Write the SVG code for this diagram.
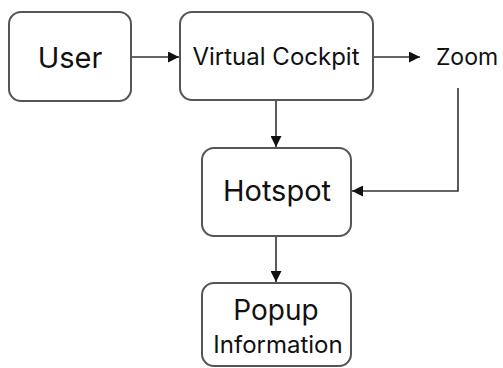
<svg xmlns="http://www.w3.org/2000/svg" width="503" height="368" viewBox="0 0 503 368">
<defs>
<style>
.box{fill:#fff;stroke:#555;stroke-width:2}
.t{font-family:Inter,"Liberation Sans",sans-serif;fill:#111;text-anchor:middle}
.c{stroke:#333;stroke-width:1.6;fill:none}
</style>
<marker id="ah" viewBox="0 0 10 10" refX="10" refY="5" markerWidth="11" markerHeight="11" markerUnits="userSpaceOnUse" orient="auto">
<path d="M0,0 L10,5 L0,10 z" fill="#111"/>
</marker>
</defs>
<rect width="503" height="368" fill="#fff"/>
<g id="connectors">
<line class="c" x1="131" y1="57" x2="179" y2="57" marker-end="url(#ah)"/>
<line class="c" x1="373" y1="57" x2="420" y2="57" marker-end="url(#ah)"/>
<line class="c" x1="276" y1="100" x2="276" y2="147" marker-end="url(#ah)"/>
<polyline class="c" points="458,88 458,191 352,191" marker-end="url(#ah)"/>
<line class="c" x1="276" y1="236" x2="276" y2="282" marker-end="url(#ah)"/>
</g>
<g id="user">
<rect class="box" x="9" y="12" width="122" height="89" rx="12"/>
<text class="t" x="70" y="68" font-size="29">User</text>
</g>
<g id="virtual-cockpit">
<rect class="box" x="180" y="12" width="193" height="88" rx="12"/>
<text class="t" x="276" y="65" font-size="24">Virtual Cockpit</text>
</g>
<g id="zoom">
<text class="t" x="467" y="65" font-size="23">Zoom</text>
</g>
<g id="hotspot">
<rect class="box" x="202" y="148" width="149" height="88" rx="12"/>
<text class="t" x="277" y="201" font-size="29">Hotspot</text>
</g>
<g id="popup">
<rect class="box" x="202" y="283" width="149" height="83" rx="12"/>
<text class="t" x="276" y="320" font-size="28">Popup</text>
<text class="t" x="278" y="353" font-size="24">Information</text>
</g>
</svg>
